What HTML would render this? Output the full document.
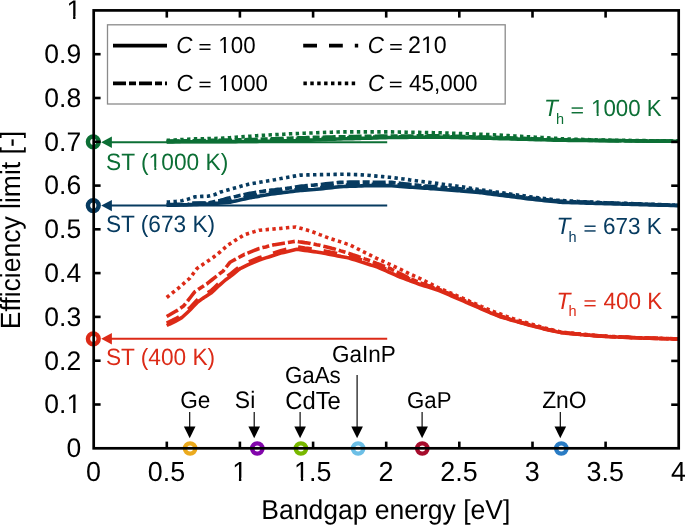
<!DOCTYPE html>
<html><head><meta charset="utf-8"><style>html,body{margin:0;padding:0;background:#fff;width:685px;height:525px;overflow:hidden}svg{display:block;will-change:transform;text-rendering:geometricPrecision}</style></head>
<body>
<svg width="685" height="525" viewBox="0 0 685 525" font-family='"Liberation Sans", sans-serif'>
<rect width="685" height="525" fill="#fff"/>
<polyline points="166.7,297.5 169.7,295.1 172.7,292.7 175.7,290.3 178.0,288.5 178.7,287.9 181.7,285.3 184.7,282.6 187.7,280.0 190.0,278.0 190.7,277.1 193.7,273.0 196.7,268.9 197.0,268.5 199.7,266.6 202.7,264.6 205.0,263.0 205.7,262.5 208.7,260.5 211.7,258.4 213.0,257.5 214.7,256.2 217.7,253.8 220.0,252.0 220.7,251.4 223.7,248.8 226.7,246.1 228.0,245.0 229.7,243.9 232.7,242.0 235.0,240.5 235.7,240.1 238.7,238.2 241.7,236.4 244.6,234.6 244.7,234.6 247.7,233.7 250.7,232.8 253.7,231.9 256.7,231.0 259.2,230.2 259.7,230.2 262.7,229.9 265.7,229.7 268.7,229.4 271.7,229.2 273.8,229.0 274.7,228.9 277.7,228.6 280.7,228.4 283.7,228.1 286.7,227.8 289.7,227.5 292.7,227.3 295.7,227.0 298.7,227.8 301.7,228.6 304.7,229.5 307.7,230.3 310.3,231.0 310.7,231.2 313.7,232.3 316.7,233.4 319.7,234.6 322.7,235.7 325.7,236.9 328.7,238.0 330.0,238.5 331.7,239.0 334.7,240.0 337.7,241.0 340.7,241.9 343.7,242.9 346.7,243.9 349.0,244.6 349.7,244.9 352.7,246.4 355.7,247.9 358.7,249.4 361.7,250.9 364.7,252.4 367.7,253.9 370.7,255.4 373.7,256.9 376.7,258.4 378.0,259.0 379.7,259.8 382.7,261.1 385.7,262.5 388.7,263.9 391.7,265.2 394.7,266.6 397.7,268.0 400.0,269.0 400.7,269.4 403.7,270.9 406.7,272.4 409.7,273.9 410.0,274.0 412.7,275.2 415.7,276.6 418.7,277.9 420.0,278.5 421.7,279.4 424.7,280.9 427.7,282.4 430.7,283.9 433.7,285.4 436.7,286.9 439.0,288.0 439.7,288.3 442.7,289.6 445.7,290.9 448.7,292.2 451.7,293.5 454.7,294.8 457.7,296.1 460.7,297.4 463.7,298.7 466.7,300.0 468.0,300.5 469.7,301.3 472.7,302.6 475.7,303.9 478.7,305.2 481.7,306.6 484.7,307.9 487.7,309.2 490.0,310.2 490.7,310.5 493.7,311.6 496.7,312.7 499.7,313.8 502.7,315.0 505.7,316.1 508.7,317.2 510.0,317.7 511.7,318.2 514.7,319.1 517.7,320.1 520.7,321.0 523.7,321.9 526.7,322.8 529.0,323.5 529.7,323.7 532.7,324.5 535.7,325.4 538.7,326.2 541.7,327.1 544.7,327.9 545.0,328.0 547.7,328.7 550.7,329.4 553.7,330.2 556.7,330.9 559.7,331.7 561.0,332.0 562.7,332.2 565.7,332.5 568.7,332.8 571.7,333.1 574.7,333.4 577.7,333.8 580.0,334.0 580.7,334.1 583.7,334.3 586.7,334.6 589.7,334.9 592.7,335.1 595.7,335.4 598.7,335.7 600.0,335.8 601.7,335.9 604.7,336.1 607.7,336.2 610.7,336.4 613.7,336.5 616.7,336.7 619.7,336.9 620.0,336.9 622.7,337.0 625.7,337.1 628.7,337.3 631.7,337.4 634.7,337.6 637.7,337.7 640.0,337.8 640.7,337.8 643.7,337.9 646.7,338.0 649.7,338.1 652.7,338.2 655.7,338.3 658.7,338.3 660.0,338.4 661.7,338.4 664.7,338.5 667.7,338.6 670.7,338.7 673.7,338.8 676.7,338.9 678.0,338.9" stroke="#dc2a17" stroke-width="3.6" fill="none" stroke-dasharray="3.4 3.4"/>
<polyline points="166.7,316.5 169.7,314.8 172.7,313.0 175.7,311.3 176.4,310.9 178.7,309.4 181.7,307.3 183.4,306.2 184.7,304.6 187.7,300.8 190.7,297.0 193.7,293.2 195.0,291.6 196.7,290.5 199.7,288.5 202.7,286.6 205.7,284.6 206.7,284.0 208.7,282.4 211.7,280.0 214.7,277.6 217.7,275.3 218.4,274.7 220.7,272.9 223.0,271.2 223.7,270.3 226.7,266.5 229.7,262.7 230.0,262.3 232.7,260.8 235.7,259.2 238.7,257.5 241.7,255.9 244.6,254.3 244.7,254.3 247.7,253.1 250.7,251.9 253.7,250.7 256.7,249.5 259.2,248.5 259.7,248.4 262.7,247.6 265.7,246.9 268.7,246.1 271.7,245.3 273.8,244.8 274.7,244.7 277.7,244.2 280.7,243.7 283.7,243.2 286.7,242.7 289.7,242.2 292.7,241.7 295.7,241.2 298.7,241.7 301.7,242.1 304.7,242.6 307.7,243.0 310.3,243.4 310.7,243.5 313.7,244.1 316.7,244.7 319.7,245.2 320.0,245.3 322.7,246.0 325.7,246.7 328.7,247.5 331.7,248.3 334.6,249.0 334.7,249.0 337.7,249.9 340.7,250.9 343.7,251.8 346.7,252.7 349.0,253.4 349.7,253.6 352.7,254.7 355.7,255.7 358.7,256.8 361.7,257.8 364.7,258.9 367.7,259.9 368.0,260.0 370.7,261.0 373.7,262.2 376.7,263.4 379.7,264.5 382.7,265.7 385.7,266.8 388.7,268.0 390.0,268.5 391.7,269.4 394.7,270.9 397.7,272.4 400.7,273.9 403.7,275.4 406.7,276.9 409.7,278.4 410.0,278.5 412.7,279.7 415.7,281.0 418.7,282.2 420.0,282.8 421.7,283.4 424.7,284.4 427.7,285.5 430.7,286.5 433.7,287.6 436.7,288.6 439.0,289.4 439.7,289.7 442.7,291.0 445.7,292.3 448.7,293.6 451.7,294.9 454.7,296.2 457.7,297.6 460.7,298.9 463.7,300.2 466.7,301.5 468.0,302.0 469.7,302.8 472.7,304.2 475.7,305.5 478.7,306.9 481.7,308.2 484.7,309.6 487.7,311.0 490.0,312.0 490.7,312.3 493.7,313.3 496.7,314.4 499.7,315.5 502.7,316.6 505.7,317.7 508.7,318.7 510.0,319.2 511.7,319.7 514.7,320.5 517.7,321.4 520.7,322.2 523.7,323.1 526.7,323.9 529.0,324.6 529.7,324.8 532.7,325.6 535.7,326.4 538.7,327.1 541.7,327.9 544.7,328.7 545.0,328.8 547.7,329.4 550.7,330.1 553.7,330.8 556.7,331.4 559.7,332.1 561.0,332.4 562.7,332.6 565.7,332.9 568.7,333.2 571.7,333.5 574.7,333.8 577.7,334.1 580.0,334.3 580.7,334.4 583.7,334.6 586.7,334.9 589.7,335.1 592.7,335.4 595.7,335.6 598.7,335.9 600.0,336.0 601.7,336.1 604.7,336.3 607.7,336.4 610.7,336.6 613.7,336.7 616.7,336.9 619.7,337.1 620.0,337.1 622.7,337.2 625.7,337.3 628.7,337.4 631.7,337.6 634.7,337.7 637.7,337.8 640.0,337.9 640.7,337.9 643.7,338.0 646.7,338.1 649.7,338.2 652.7,338.3 655.7,338.4 658.7,338.4 660.0,338.5 661.7,338.5 664.7,338.6 667.7,338.7 670.7,338.8 673.7,338.9 676.7,339.0 678.0,339.0" stroke="#dc2a17" stroke-width="3.6" fill="none" stroke-dasharray="13 3 7 3"/>
<polyline points="166.7,323.1 169.7,321.6 172.7,320.2 175.7,318.7 176.0,318.6 178.7,317.0 181.7,315.2 182.2,314.9 184.7,312.6 187.7,309.8 190.0,307.6 190.7,306.9 193.7,303.7 196.7,300.5 197.4,299.8 199.7,298.2 202.7,296.0 204.0,295.1 205.7,294.0 208.7,292.1 211.4,290.4 211.7,290.1 214.7,287.3 217.7,284.4 218.0,284.1 220.7,281.7 223.7,279.1 225.4,277.6 226.7,276.7 229.7,274.5 230.0,274.3 232.7,272.1 235.7,269.7 238.7,267.3 240.0,266.3 241.7,265.5 244.7,264.0 247.7,262.5 250.0,261.4 250.7,261.1 253.7,259.9 256.7,258.7 259.7,257.5 260.0,257.4 262.7,256.5 265.7,255.5 268.7,254.6 271.7,253.6 274.7,252.6 277.7,251.6 280.0,250.9 280.7,250.7 283.7,250.0 286.7,249.3 289.7,248.6 292.7,247.9 295.7,247.2 297.2,246.9 298.7,247.1 301.7,247.5 304.7,248.0 307.7,248.4 310.7,248.8 313.7,249.2 316.7,249.6 319.7,250.1 320.0,250.1 322.7,250.6 325.7,251.2 328.7,251.8 331.7,252.4 334.7,252.9 337.7,253.5 340.7,254.1 343.7,254.7 346.7,255.3 349.0,255.7 349.7,255.9 352.7,256.9 355.7,257.9 358.7,258.9 361.7,259.9 364.7,260.9 367.7,261.9 370.7,262.9 373.7,263.9 376.7,264.9 378.0,265.4 379.7,266.1 382.7,267.5 385.7,268.9 388.7,270.2 391.7,271.6 394.7,272.9 397.7,274.3 400.0,275.3 400.7,275.6 403.7,276.8 406.7,278.0 409.7,279.1 410.0,279.3 412.7,280.3 415.7,281.4 418.7,282.6 420.0,283.1 421.7,283.6 424.7,284.6 427.7,285.6 430.7,286.6 433.7,287.6 436.7,288.6 439.0,289.3 439.7,289.6 442.7,291.0 445.7,292.3 448.7,293.6 451.7,295.0 454.7,296.3 457.7,297.6 460.7,299.0 463.7,300.3 466.7,301.6 468.0,302.2 469.7,303.0 472.7,304.3 475.7,305.7 478.7,307.0 481.7,308.4 484.7,309.7 487.7,311.1 490.0,312.1 490.7,312.4 493.7,313.7 496.7,314.9 499.7,316.1 500.0,316.3 502.7,317.1 505.7,318.0 508.7,319.0 510.0,319.4 511.7,319.9 514.7,320.7 517.7,321.6 520.7,322.4 523.7,323.3 526.7,324.1 529.0,324.8 529.7,325.0 532.7,325.8 535.7,326.6 538.7,327.3 541.7,328.1 544.7,328.9 545.0,329.0 547.7,329.6 550.7,330.2 553.7,330.8 556.7,331.5 559.7,332.1 561.0,332.4 562.7,332.6 565.7,332.9 568.7,333.2 571.7,333.5 574.7,333.8 577.7,334.1 580.0,334.3 580.7,334.4 583.7,334.6 586.7,334.9 589.7,335.1 592.7,335.4 595.7,335.6 598.7,335.9 600.0,336.0 601.7,336.1 604.7,336.2 607.7,336.4 610.7,336.5 613.7,336.7 616.7,336.8 619.7,337.0 620.0,337.0 622.7,337.1 625.7,337.2 628.7,337.3 631.7,337.5 634.7,337.6 637.7,337.7 640.0,337.8 640.7,337.8 643.7,337.9 646.7,338.0 649.7,338.1 652.7,338.2 655.7,338.3 658.7,338.3 660.0,338.4 661.7,338.4 664.7,338.5 667.7,338.6 670.7,338.6 673.7,338.7 676.7,338.8 678.0,338.8" stroke="#dc2a17" stroke-width="3.6" fill="none" stroke-dasharray="13.8 12"/>
<polyline points="166.7,325.5 169.7,324.0 172.7,322.6 175.7,321.1 176.0,321.0 178.7,319.4 181.7,317.6 182.2,317.3 184.7,315.0 187.7,312.2 190.0,310.0 190.7,309.3 193.7,306.1 196.7,302.9 197.4,302.2 199.7,300.6 202.7,298.4 204.0,297.5 205.7,296.4 208.7,294.5 211.4,292.8 211.7,292.5 214.7,289.7 217.7,286.8 218.0,286.5 220.7,284.1 223.7,281.5 225.4,280.0 226.7,279.1 229.7,276.9 230.0,276.7 232.7,274.5 235.7,272.1 238.7,269.7 240.0,268.7 241.7,267.9 244.7,266.4 247.7,264.9 250.0,263.8 250.7,263.5 253.7,262.3 256.7,261.1 259.7,259.9 260.0,259.8 262.7,258.9 265.7,257.9 268.7,257.0 271.7,256.0 274.7,255.0 277.7,254.0 280.0,253.3 280.7,253.1 283.7,252.4 286.7,251.7 289.7,251.0 292.7,250.3 295.7,249.6 297.2,249.3 298.7,249.5 301.7,249.9 304.7,250.4 307.7,250.8 310.7,251.2 313.7,251.6 316.7,252.0 319.7,252.5 320.0,252.5 322.7,253.0 325.7,253.6 328.7,254.2 331.7,254.7 334.7,255.3 337.7,255.9 340.7,256.4 343.7,257.0 346.7,257.6 349.0,258.0 349.7,258.2 352.7,259.2 355.7,260.1 358.7,261.1 361.7,262.1 364.7,263.0 367.7,264.0 370.7,265.0 373.7,265.9 376.7,266.9 378.0,267.3 379.7,268.0 382.7,269.4 385.7,270.7 388.7,272.0 391.7,273.3 394.7,274.7 397.7,276.0 400.0,277.0 400.7,277.3 403.7,278.4 406.7,279.5 409.7,280.7 410.0,280.8 412.7,281.8 415.7,282.9 418.7,284.0 420.0,284.5 421.7,285.0 424.7,286.0 427.7,286.9 430.7,287.9 433.7,288.8 436.7,289.8 439.0,290.5 439.7,290.8 442.7,292.1 445.7,293.4 448.7,294.7 451.7,296.0 454.7,297.3 457.7,298.6 460.7,299.9 463.7,301.2 466.7,302.5 468.0,303.0 469.7,303.8 472.7,305.1 475.7,306.4 478.7,307.7 481.7,309.1 484.7,310.4 487.7,311.7 490.0,312.7 490.7,313.0 493.7,314.2 496.7,315.4 499.7,316.6 500.0,316.7 502.7,317.5 505.7,318.4 508.7,319.3 510.0,319.7 511.7,320.2 514.7,321.0 517.7,321.8 520.7,322.7 523.7,323.5 526.7,324.4 529.0,325.0 529.7,325.2 532.7,326.0 535.7,326.8 538.7,327.5 541.7,328.3 544.7,329.1 545.0,329.2 547.7,329.8 550.7,330.4 553.7,331.0 556.7,331.7 559.7,332.3 561.0,332.6 562.7,332.8 565.7,333.1 568.7,333.4 571.7,333.7 574.7,334.0 577.7,334.3 580.0,334.5 580.7,334.6 583.7,334.8 586.7,335.1 589.7,335.3 592.7,335.6 595.7,335.8 598.7,336.1 600.0,336.2 601.7,336.3 604.7,336.4 607.7,336.6 610.7,336.7 613.7,336.9 616.7,337.0 619.7,337.2 620.0,337.2 622.7,337.3 625.7,337.4 628.7,337.5 631.7,337.7 634.7,337.8 637.7,337.9 640.0,338.0 640.7,338.0 643.7,338.1 646.7,338.2 649.7,338.3 652.7,338.4 655.7,338.5 658.7,338.5 660.0,338.6 661.7,338.6 664.7,338.7 667.7,338.8 670.7,338.8 673.7,338.9 676.7,339.0 678.0,339.0" stroke="#dc2a17" stroke-width="3.6" fill="none" stroke-linejoin="round"/>
<polyline points="166.7,202.0 169.7,201.9 172.7,201.7 175.0,201.6 175.7,201.5 178.7,201.2 181.7,200.8 182.0,200.8 184.7,200.0 187.7,199.2 188.0,199.1 190.7,198.3 193.7,197.3 195.0,196.9 196.7,196.8 199.7,196.6 202.0,196.4 202.7,196.4 205.7,196.3 208.0,196.2 208.7,196.0 211.7,195.3 214.7,194.6 215.0,194.5 217.7,193.3 220.0,192.3 220.7,192.1 223.7,191.2 226.7,190.3 229.7,189.4 230.0,189.3 232.7,188.6 235.7,187.8 238.7,187.0 241.7,186.1 244.7,185.3 247.7,184.5 250.0,183.9 250.7,183.8 253.7,183.3 256.7,182.8 259.7,182.3 262.7,181.7 265.7,181.2 268.7,180.7 270.0,180.5 271.7,180.2 274.7,179.7 277.7,179.1 280.7,178.6 283.7,178.0 286.7,177.5 289.7,177.0 290.0,176.9 292.7,176.4 295.7,175.9 298.7,175.3 300.0,175.1 301.7,175.1 304.7,175.0 307.7,174.9 310.7,174.8 313.7,174.8 316.7,174.7 319.7,174.6 320.0,174.6 322.7,174.6 325.7,174.5 328.7,174.5 331.7,174.5 334.7,174.4 337.7,174.4 340.7,174.3 343.7,174.3 344.0,174.3 346.7,174.4 349.7,174.4 352.7,174.5 355.7,174.6 358.0,174.6 358.7,174.7 361.7,174.9 364.7,175.1 367.7,175.3 370.7,175.5 371.5,175.6 373.7,175.8 376.7,176.1 379.7,176.4 382.7,176.6 385.7,176.9 388.7,177.2 390.0,177.3 391.7,177.5 394.7,177.9 397.7,178.3 400.7,178.7 403.7,179.0 405.0,179.2 406.7,179.4 409.7,179.9 412.7,180.3 415.7,180.7 418.7,181.1 420.0,181.3 421.7,181.5 424.7,181.9 427.7,182.2 430.7,182.6 433.7,183.0 434.0,183.0 436.7,183.4 439.7,183.8 442.7,184.2 445.7,184.6 447.0,184.8 448.7,185.0 451.7,185.4 454.7,185.8 457.7,186.2 460.0,186.5 460.7,186.6 463.7,187.1 466.7,187.6 469.7,188.1 472.7,188.6 475.7,189.1 478.7,189.6 480.0,189.8 481.7,190.0 484.7,190.4 487.7,190.9 490.7,191.3 493.7,191.7 496.7,192.1 499.7,192.5 502.7,192.9 505.7,193.3 508.7,193.8 511.7,194.2 514.7,194.6 517.7,195.0 520.7,195.4 523.7,195.8 526.7,196.2 529.7,196.7 530.0,196.7 532.7,197.0 535.7,197.4 538.7,197.8 541.7,198.1 544.7,198.5 547.7,198.9 550.7,199.2 553.7,199.6 556.7,200.0 559.7,200.3 561.0,200.5 562.7,200.6 565.7,200.7 568.7,200.9 571.7,201.0 574.7,201.2 577.7,201.4 580.7,201.5 583.7,201.7 586.7,201.8 589.7,202.0 592.7,202.1 595.7,202.3 598.7,202.4 600.0,202.5 601.7,202.6 604.7,202.7 607.7,202.8 610.7,202.9 613.7,203.0 616.7,203.1 619.7,203.2 622.7,203.3 625.7,203.4 628.7,203.5 631.7,203.6 634.7,203.7 637.7,203.8 640.0,203.9 640.7,203.9 643.7,204.0 646.7,204.1 649.7,204.2 652.7,204.3 655.7,204.4 658.7,204.5 661.7,204.6 664.7,204.7 667.7,204.8 670.7,204.9 673.7,205.0 676.7,205.1 678.0,205.1" stroke="#073b60" stroke-width="3.6" fill="none" stroke-dasharray="3.4 3.4"/>
<polyline points="166.7,204.8 169.7,204.8 172.7,204.8 175.7,204.8 178.7,204.8 181.7,204.8 184.7,204.8 186.0,204.8 187.7,204.4 190.7,203.6 193.0,203.0 193.7,203.0 196.7,203.0 199.7,203.0 202.7,203.0 205.0,203.0 205.7,202.9 208.7,202.7 210.0,202.6 211.7,202.2 214.7,201.6 217.7,201.0 220.0,200.5 220.7,200.3 223.7,199.5 226.7,198.6 229.7,197.8 231.0,197.4 232.7,197.0 235.7,196.4 238.7,195.7 241.7,195.1 244.7,194.4 247.7,193.8 250.0,193.3 250.7,193.2 253.7,192.7 256.7,192.3 259.7,191.8 262.7,191.4 265.7,190.9 268.7,190.5 270.0,190.3 271.7,190.1 274.7,189.8 277.7,189.4 280.7,189.1 283.7,188.7 286.7,188.4 289.7,188.0 290.0,188.0 292.7,187.5 295.7,187.0 298.7,186.5 300.0,186.3 301.7,186.1 304.7,185.9 307.7,185.6 310.7,185.3 313.7,185.1 316.7,184.8 319.7,184.5 320.0,184.5 322.7,184.2 325.7,183.9 328.7,183.6 331.7,183.3 334.7,183.0 337.7,182.6 340.0,182.4 340.7,182.4 343.7,182.3 346.7,182.2 349.7,182.1 350.0,182.1 352.7,182.1 355.7,182.1 358.7,182.1 361.7,182.1 364.7,182.1 367.7,182.1 370.7,182.2 373.7,182.2 376.7,182.2 379.7,182.2 382.7,182.2 385.7,182.2 388.7,182.2 390.0,182.2 391.7,182.4 394.7,182.7 397.7,183.0 400.0,183.3 400.7,183.4 403.7,183.7 406.7,184.0 409.7,184.4 412.7,184.7 415.7,185.0 418.7,185.4 420.0,185.5 421.7,185.6 424.7,185.9 427.7,186.1 430.7,186.4 433.7,186.6 436.7,186.9 439.7,187.1 442.7,187.4 445.7,187.6 448.7,187.9 451.7,188.1 454.7,188.4 457.7,188.6 460.0,188.8 460.7,188.9 463.7,189.2 466.7,189.5 469.7,189.9 472.7,190.2 475.7,190.5 478.7,190.9 480.0,191.0 481.7,191.2 484.7,191.7 487.7,192.1 490.7,192.5 493.7,192.9 496.7,193.3 499.7,193.8 502.7,194.2 505.7,194.6 508.7,195.0 511.7,195.4 514.7,195.9 517.7,196.3 520.7,196.7 523.7,197.1 526.7,197.5 529.7,198.0 530.0,198.0 532.7,198.3 535.7,198.6 538.7,198.9 541.7,199.2 544.7,199.6 547.7,199.9 550.7,200.2 553.7,200.5 556.7,200.8 559.7,201.2 561.0,201.3 562.7,201.4 565.7,201.5 568.7,201.6 571.7,201.7 574.7,201.8 577.7,201.9 580.7,202.0 583.7,202.1 586.7,202.2 589.7,202.3 592.7,202.4 595.7,202.5 598.7,202.7 600.0,202.7 601.7,202.8 604.7,202.9 607.7,203.0 610.7,203.1 613.7,203.2 616.7,203.3 619.7,203.4 622.7,203.5 625.7,203.6 628.7,203.7 631.7,203.8 634.7,203.9 637.7,204.0 640.0,204.1 640.7,204.1 643.7,204.2 646.7,204.3 649.7,204.4 652.7,204.5 655.7,204.6 658.7,204.7 661.7,204.8 664.7,204.9 667.7,205.0 670.7,205.1 673.7,205.2 676.7,205.3 678.0,205.3" stroke="#073b60" stroke-width="3.6" fill="none" stroke-dasharray="13 3 7 3"/>
<polyline points="166.7,204.6 169.7,204.5 172.7,204.5 175.7,204.4 178.7,204.4 181.7,204.3 184.7,204.2 186.0,204.2 187.7,204.1 190.7,203.9 193.7,203.8 196.7,203.6 199.7,203.4 202.7,203.2 205.7,203.1 208.7,202.9 210.0,202.8 211.7,202.6 214.7,202.4 217.7,202.1 220.7,201.8 223.7,201.6 226.7,201.3 229.7,201.0 230.0,201.0 232.7,200.4 235.7,199.7 238.7,199.0 241.7,198.3 244.7,197.5 247.7,196.8 250.0,196.3 250.7,196.2 253.7,195.6 256.7,195.1 259.7,194.6 262.7,194.0 265.7,193.5 268.7,192.9 270.0,192.7 271.7,192.5 274.7,192.1 277.7,191.8 280.7,191.4 283.7,191.0 286.7,190.6 289.7,190.3 292.7,189.9 295.7,189.5 298.7,189.2 300.0,189.0 301.7,188.9 304.7,188.6 307.7,188.4 310.7,188.2 313.7,188.0 316.7,187.7 319.7,187.5 320.0,187.5 322.7,187.2 325.7,186.8 328.7,186.5 331.7,186.2 334.7,185.8 337.7,185.5 340.0,185.2 340.7,185.2 343.7,185.1 346.7,185.0 349.7,184.9 352.7,184.8 355.7,184.7 358.7,184.6 361.7,184.5 364.7,184.4 367.7,184.3 370.0,184.2 370.7,184.2 373.7,184.2 376.7,184.2 379.7,184.2 382.7,184.3 385.7,184.3 388.7,184.3 390.0,184.3 391.7,184.4 394.7,184.6 397.7,184.8 400.0,185.0 400.7,185.1 403.7,185.3 406.7,185.5 409.7,185.7 412.7,186.0 415.7,186.2 418.7,186.4 421.7,186.7 424.7,186.9 426.0,187.0 427.7,187.1 430.7,187.4 433.7,187.7 436.7,187.9 439.7,188.2 442.7,188.4 445.7,188.7 448.7,188.9 451.7,189.2 454.7,189.4 457.7,189.7 460.0,189.9 460.7,190.0 463.7,190.3 466.7,190.5 469.7,190.8 472.7,191.1 475.7,191.4 478.7,191.7 480.0,191.8 481.7,192.0 484.7,192.4 487.7,192.8 490.7,193.2 493.7,193.6 496.7,194.0 499.7,194.4 502.7,194.8 505.7,195.2 508.7,195.6 511.7,196.0 514.7,196.4 517.7,196.9 520.7,197.3 523.7,197.7 526.7,198.1 529.7,198.5 530.0,198.5 532.7,198.8 535.7,199.1 538.7,199.3 541.7,199.6 544.7,199.9 547.7,200.2 550.7,200.5 553.7,200.8 556.7,201.1 559.7,201.4 561.0,201.5 562.7,201.6 565.7,201.7 568.7,201.8 571.7,201.9 574.7,202.0 577.7,202.1 580.7,202.2 583.7,202.3 586.7,202.4 589.7,202.5 592.7,202.6 595.7,202.7 598.7,202.8 600.0,202.8 601.7,202.9 604.7,203.0 607.7,203.1 610.7,203.2 613.7,203.3 616.7,203.4 619.7,203.5 622.7,203.6 625.7,203.7 628.7,203.8 631.7,203.9 634.7,204.0 637.7,204.1 640.0,204.2 640.7,204.2 643.7,204.3 646.7,204.4 649.7,204.5 652.7,204.6 655.7,204.7 658.7,204.8 661.7,204.9 664.7,205.0 667.7,205.1 670.7,205.2 673.7,205.3 676.7,205.4 678.0,205.4" stroke="#073b60" stroke-width="3.6" fill="none" stroke-dasharray="13.8 12"/>
<polyline points="166.7,205.3 169.7,205.2 172.7,205.1 175.7,205.1 178.7,205.0 181.7,204.9 184.7,204.8 186.0,204.8 187.7,204.7 190.7,204.6 193.7,204.5 196.7,204.4 199.7,204.2 202.7,204.1 205.7,204.0 208.7,203.9 210.0,203.8 211.7,203.7 214.7,203.4 217.7,203.2 220.7,202.9 223.7,202.7 226.7,202.5 229.7,202.2 230.0,202.2 232.7,201.6 235.7,200.9 238.7,200.3 241.7,199.6 244.7,199.0 247.7,198.3 250.0,197.8 250.7,197.7 253.7,197.1 256.7,196.6 259.7,196.1 262.7,195.5 265.7,195.0 268.7,194.4 270.0,194.2 271.7,194.0 274.7,193.6 277.7,193.3 280.7,192.9 283.7,192.5 286.7,192.1 289.7,191.8 292.7,191.4 295.7,191.0 298.7,190.7 300.0,190.5 301.7,190.4 304.7,190.1 307.7,189.9 310.7,189.7 313.7,189.5 316.7,189.2 319.7,189.0 320.0,189.0 322.7,188.7 325.7,188.3 328.7,188.0 331.7,187.6 334.7,187.2 337.7,186.9 340.0,186.6 340.7,186.6 343.7,186.5 346.7,186.4 349.7,186.3 352.7,186.2 355.7,186.1 358.7,186.0 361.7,185.9 364.7,185.8 367.7,185.7 370.0,185.6 370.7,185.6 373.7,185.6 376.7,185.6 379.7,185.6 382.7,185.6 385.7,185.6 388.7,185.6 390.0,185.6 391.7,185.7 394.7,186.0 397.7,186.2 400.0,186.4 400.7,186.4 403.7,186.7 406.7,186.9 409.7,187.1 412.7,187.3 415.7,187.5 418.7,187.7 421.7,187.9 424.7,188.1 426.0,188.2 427.7,188.3 430.7,188.6 433.7,188.8 436.7,189.0 439.7,189.2 442.7,189.5 445.7,189.7 448.7,189.9 451.7,190.2 454.7,190.4 457.7,190.6 460.0,190.8 460.7,190.9 463.7,191.1 466.7,191.4 469.7,191.7 472.7,191.9 475.7,192.2 478.7,192.5 480.0,192.6 481.7,192.8 484.7,193.2 487.7,193.6 490.7,194.0 493.7,194.4 496.7,194.7 499.7,195.1 502.7,195.5 505.7,195.9 508.7,196.3 511.7,196.7 514.7,197.0 517.7,197.4 520.7,197.8 523.7,198.2 526.7,198.6 529.7,199.0 530.0,199.0 532.7,199.3 535.7,199.6 538.7,199.9 541.7,200.2 544.7,200.6 547.7,200.9 550.7,201.2 553.7,201.5 556.7,201.8 559.7,202.2 561.0,202.3 562.7,202.4 565.7,202.4 568.7,202.5 571.7,202.6 574.7,202.7 577.7,202.8 580.7,202.9 583.7,203.0 586.7,203.1 589.7,203.2 592.7,203.3 595.7,203.4 598.7,203.5 600.0,203.5 601.7,203.5 604.7,203.6 607.7,203.7 610.7,203.8 613.7,203.9 616.7,204.0 619.7,204.0 622.7,204.1 625.7,204.2 628.7,204.3 631.7,204.4 634.7,204.5 637.7,204.5 640.0,204.6 640.7,204.6 643.7,204.7 646.7,204.8 649.7,204.9 652.7,204.9 655.7,205.0 658.7,205.1 661.7,205.2 664.7,205.2 667.7,205.3 670.7,205.4 673.7,205.5 676.7,205.6 678.0,205.6" stroke="#073b60" stroke-width="3.6" fill="none" stroke-linejoin="round"/>
<polyline points="166.7,140.3 169.7,140.2 172.7,140.0 175.7,139.9 178.7,139.7 181.7,139.6 184.7,139.4 187.7,139.3 190.7,139.1 193.7,139.0 195.0,138.9 196.7,138.9 199.7,138.8 202.7,138.7 205.7,138.7 208.7,138.6 211.7,138.6 214.7,138.5 217.7,138.4 220.0,138.4 220.7,138.4 223.7,138.1 226.7,137.9 229.7,137.7 232.7,137.5 235.7,137.3 238.7,137.1 240.0,137.0 241.7,136.9 244.7,136.6 247.7,136.4 250.7,136.2 253.7,135.9 256.7,135.7 258.0,135.6 259.7,135.5 262.7,135.3 265.7,135.2 268.7,135.0 271.7,134.8 274.7,134.7 277.7,134.5 280.7,134.3 283.7,134.2 286.7,134.0 289.7,133.8 290.0,133.8 292.7,133.7 295.7,133.6 298.7,133.5 301.7,133.3 304.7,133.2 307.7,133.1 310.7,133.0 313.7,132.9 316.7,132.7 319.7,132.6 320.0,132.6 322.7,132.5 325.7,132.4 328.7,132.3 331.7,132.2 334.7,132.1 337.7,132.0 340.0,131.9 340.7,131.9 343.7,131.9 346.7,131.9 349.7,131.9 352.7,131.9 355.7,131.9 358.7,131.9 361.7,131.9 364.7,131.9 367.7,131.9 370.7,131.9 373.7,131.9 376.7,131.9 379.7,131.9 382.7,131.9 385.7,131.9 388.7,131.9 390.0,131.9 391.7,131.9 394.7,132.0 397.7,132.0 400.7,132.1 403.7,132.1 406.7,132.2 409.7,132.3 412.7,132.3 415.7,132.4 418.7,132.4 421.7,132.5 424.7,132.5 427.7,132.6 430.7,132.6 433.7,132.7 436.7,132.7 439.7,132.8 440.0,132.8 442.7,132.9 445.7,133.0 448.7,133.1 451.7,133.2 454.7,133.3 457.7,133.4 460.7,133.5 463.7,133.7 466.7,133.8 469.7,133.9 472.7,134.0 475.7,134.1 478.7,134.2 481.7,134.3 484.7,134.4 487.7,134.5 490.0,134.6 490.7,134.6 493.7,134.8 496.7,135.0 499.7,135.1 502.7,135.3 505.7,135.5 508.7,135.6 511.7,135.8 514.7,136.0 517.7,136.2 520.7,136.3 523.7,136.5 526.7,136.7 529.7,136.8 532.7,137.0 535.7,137.2 538.7,137.3 540.0,137.4 541.7,137.5 544.7,137.7 547.7,137.9 550.7,138.1 553.7,138.2 556.7,138.4 559.7,138.6 561.0,138.7 562.7,138.8 565.7,138.9 568.7,139.0 571.7,139.1 574.7,139.2 577.7,139.3 580.7,139.4 583.7,139.5 586.7,139.6 589.7,139.7 592.7,139.8 595.7,139.9 598.7,140.0 600.0,140.0 601.7,140.0 604.7,140.1 607.7,140.1 610.7,140.2 613.7,140.2 616.7,140.3 619.7,140.3 622.7,140.3 625.7,140.4 628.7,140.4 631.7,140.5 634.7,140.5 637.7,140.6 640.0,140.6 640.7,140.6 643.7,140.6 646.7,140.7 649.7,140.7 652.7,140.7 655.7,140.8 658.7,140.8 661.7,140.8 664.7,140.9 667.7,140.9 670.7,140.9 673.7,141.0 676.7,141.0 678.0,141.0" stroke="#0c6f35" stroke-width="3.6" fill="none" stroke-dasharray="3.4 3.4"/>
<polyline points="166.7,141.2 169.7,141.1 172.7,141.1 175.7,141.0 178.7,141.0 181.7,140.9 184.7,140.9 187.7,140.8 190.7,140.8 193.7,140.7 196.7,140.7 199.7,140.6 200.0,140.6 202.7,140.5 205.7,140.5 208.7,140.4 211.7,140.4 214.7,140.3 217.7,140.2 220.7,140.2 223.7,140.1 226.7,140.1 229.7,140.0 232.7,139.9 235.7,139.9 238.7,139.8 241.7,139.8 244.7,139.7 247.7,139.6 250.0,139.6 250.7,139.6 253.7,139.5 256.7,139.4 259.7,139.3 262.7,139.1 265.7,139.0 268.7,138.9 271.7,138.8 274.7,138.7 277.7,138.6 280.7,138.5 283.7,138.4 286.7,138.3 289.7,138.2 292.7,138.1 295.7,138.0 298.7,137.8 300.0,137.8 301.7,137.8 304.7,137.7 307.7,137.6 310.7,137.5 313.7,137.4 316.7,137.4 319.7,137.3 322.7,137.2 325.7,137.1 328.7,137.0 330.0,137.0 331.7,137.0 334.7,136.9 337.7,136.8 340.7,136.8 343.7,136.7 346.7,136.7 349.7,136.6 352.7,136.5 355.7,136.5 358.7,136.4 360.0,136.4 361.7,136.4 364.7,136.3 367.7,136.3 370.7,136.3 373.7,136.2 376.7,136.2 379.7,136.1 382.7,136.1 385.7,136.1 388.7,136.0 390.0,136.0 391.7,136.0 394.7,136.0 397.7,136.0 400.7,136.0 403.7,136.0 406.7,136.0 409.7,136.0 412.7,136.0 415.7,135.9 418.7,135.9 421.7,135.9 424.7,135.9 427.7,135.9 430.7,135.9 433.7,135.9 436.7,135.9 439.7,135.9 440.0,135.9 442.7,136.0 445.7,136.0 448.7,136.1 451.7,136.2 454.7,136.3 457.7,136.4 460.7,136.4 463.7,136.5 466.7,136.6 469.7,136.7 472.7,136.8 475.7,136.8 478.7,136.9 481.7,137.0 484.7,137.1 487.7,137.1 490.0,137.2 490.7,137.2 493.7,137.3 496.7,137.4 499.7,137.5 502.7,137.7 505.7,137.8 508.7,137.9 511.7,138.0 514.7,138.1 517.7,138.2 520.7,138.3 523.7,138.4 526.7,138.5 529.7,138.6 532.7,138.7 535.7,138.8 538.7,139.0 540.0,139.0 541.7,139.1 544.7,139.2 547.7,139.3 550.7,139.4 553.7,139.5 556.7,139.6 559.7,139.8 561.0,139.8 562.7,139.8 565.7,139.9 568.7,139.9 571.7,140.0 574.7,140.0 577.7,140.1 580.7,140.1 583.7,140.1 586.7,140.2 589.7,140.2 592.7,140.3 595.7,140.3 598.7,140.4 600.0,140.4 601.7,140.4 604.7,140.4 607.7,140.5 610.7,140.5 613.7,140.5 616.7,140.6 619.7,140.6 622.7,140.6 625.7,140.7 628.7,140.7 631.7,140.7 634.7,140.7 637.7,140.8 640.0,140.8 640.7,140.8 643.7,140.8 646.7,140.9 649.7,140.9 652.7,140.9 655.7,141.0 658.7,141.0 661.7,141.0 664.7,141.1 667.7,141.1 670.7,141.1 673.7,141.2 676.7,141.2 678.0,141.2" stroke="#0c6f35" stroke-width="3.6" fill="none" stroke-dasharray="13 3 7 3"/>
<polyline points="166.7,141.5 169.7,141.5 172.7,141.4 175.7,141.4 178.7,141.4 181.7,141.3 184.7,141.3 187.7,141.2 190.7,141.2 193.7,141.2 196.7,141.1 199.7,141.1 200.0,141.1 202.7,141.1 205.7,141.0 208.7,141.0 211.7,141.0 214.7,140.9 217.7,140.9 220.7,140.9 223.7,140.8 226.7,140.8 229.7,140.7 232.7,140.7 235.7,140.7 238.7,140.6 241.7,140.6 244.7,140.6 247.7,140.5 250.0,140.5 250.7,140.5 253.7,140.4 256.7,140.3 259.7,140.2 262.7,140.2 265.7,140.1 268.7,140.0 271.7,139.9 274.7,139.9 277.7,139.8 280.7,139.7 283.7,139.6 286.7,139.5 289.7,139.5 292.7,139.4 295.7,139.3 298.7,139.2 300.0,139.2 301.7,139.1 304.7,139.0 307.7,138.9 310.7,138.8 313.7,138.7 316.7,138.6 319.7,138.5 322.7,138.4 325.7,138.3 328.7,138.1 330.0,138.1 331.7,138.1 334.7,138.0 337.7,137.9 340.7,137.9 343.7,137.8 346.7,137.7 349.7,137.6 352.7,137.6 355.7,137.5 358.7,137.4 360.0,137.4 361.7,137.4 364.7,137.3 367.7,137.2 370.7,137.2 373.7,137.1 376.7,137.1 379.7,137.0 382.7,136.9 385.7,136.9 388.7,136.8 390.0,136.8 391.7,136.8 394.7,136.8 397.7,136.8 400.7,136.7 403.7,136.7 406.7,136.7 409.7,136.7 412.7,136.7 415.7,136.6 418.7,136.6 421.7,136.6 424.7,136.6 427.7,136.6 430.7,136.6 433.7,136.5 436.7,136.5 439.7,136.5 440.0,136.5 442.7,136.6 445.7,136.6 448.7,136.7 451.7,136.8 454.7,136.9 457.7,136.9 460.7,137.0 463.7,137.1 466.7,137.1 469.7,137.2 472.7,137.3 475.7,137.4 478.7,137.4 481.7,137.5 484.7,137.6 487.7,137.6 490.0,137.7 490.7,137.7 493.7,137.8 496.7,137.9 499.7,138.0 502.7,138.1 505.7,138.2 508.7,138.3 511.7,138.4 514.7,138.5 517.7,138.6 520.7,138.7 523.7,138.8 526.7,138.9 529.7,139.0 532.7,139.1 535.7,139.2 538.7,139.3 540.0,139.3 541.7,139.4 544.7,139.5 547.7,139.6 550.7,139.7 553.7,139.8 556.7,139.9 559.7,140.0 561.0,140.0 562.7,140.0 565.7,140.1 568.7,140.1 571.7,140.1 574.7,140.2 577.7,140.2 580.7,140.3 583.7,140.3 586.7,140.3 589.7,140.4 592.7,140.4 595.7,140.4 598.7,140.5 600.0,140.5 601.7,140.5 604.7,140.5 607.7,140.6 610.7,140.6 613.7,140.6 616.7,140.7 619.7,140.7 622.7,140.7 625.7,140.8 628.7,140.8 631.7,140.8 634.7,140.8 637.7,140.9 640.0,140.9 640.7,140.9 643.7,140.9 646.7,141.0 649.7,141.0 652.7,141.0 655.7,141.1 658.7,141.1 661.7,141.1 664.7,141.2 667.7,141.2 670.7,141.2 673.7,141.3 676.7,141.3 678.0,141.3" stroke="#0c6f35" stroke-width="3.6" fill="none" stroke-dasharray="13.8 12"/>
<polyline points="166.7,141.9 169.7,141.9 172.7,141.9 175.7,141.8 178.7,141.8 181.7,141.8 184.7,141.8 187.7,141.8 190.7,141.8 193.7,141.7 196.7,141.7 199.7,141.7 200.0,141.7 202.7,141.7 205.7,141.7 208.7,141.7 211.7,141.7 214.7,141.6 217.7,141.6 220.7,141.6 223.7,141.6 226.7,141.6 229.7,141.6 232.7,141.6 235.7,141.6 238.7,141.5 241.7,141.5 244.7,141.5 247.7,141.5 250.0,141.5 250.7,141.5 253.7,141.4 256.7,141.4 259.7,141.3 262.7,141.3 265.7,141.2 268.7,141.2 271.7,141.1 274.7,141.1 277.7,141.0 280.7,140.9 283.7,140.9 286.7,140.8 289.7,140.8 292.7,140.7 295.7,140.7 298.7,140.6 300.0,140.6 301.7,140.5 304.7,140.4 307.7,140.2 310.7,140.1 313.7,140.0 316.7,139.8 317.0,139.8 319.7,139.7 322.7,139.5 325.7,139.4 328.7,139.3 330.0,139.2 331.7,139.2 334.7,139.1 337.7,139.0 340.7,138.9 343.7,138.8 346.7,138.8 349.7,138.7 352.7,138.6 355.7,138.5 358.7,138.4 360.0,138.4 361.7,138.3 364.7,138.3 367.7,138.2 370.7,138.1 373.7,138.0 376.7,137.9 379.7,137.8 382.7,137.7 385.7,137.6 388.7,137.5 390.0,137.5 391.7,137.5 394.7,137.5 397.7,137.4 400.7,137.4 403.7,137.4 406.7,137.4 409.7,137.3 412.7,137.3 415.7,137.3 418.7,137.3 421.7,137.2 424.7,137.2 427.7,137.2 430.7,137.2 433.7,137.2 436.7,137.1 439.7,137.1 440.0,137.1 442.7,137.2 445.7,137.2 448.7,137.3 451.7,137.4 454.7,137.5 457.7,137.5 460.7,137.6 463.7,137.7 466.7,137.7 469.7,137.8 472.7,137.9 475.7,138.0 478.7,138.0 481.7,138.1 484.7,138.2 487.7,138.2 490.0,138.3 490.7,138.3 493.7,138.4 496.7,138.5 499.7,138.6 502.7,138.7 505.7,138.7 508.7,138.8 511.7,138.9 514.7,139.0 517.7,139.1 520.7,139.2 523.7,139.2 526.7,139.3 529.7,139.4 532.7,139.5 535.7,139.6 538.7,139.7 540.0,139.7 541.7,139.7 544.7,139.8 547.7,139.9 550.7,140.0 553.7,140.1 556.7,140.2 559.7,140.3 561.0,140.3 562.7,140.3 565.7,140.3 568.7,140.4 571.7,140.4 574.7,140.4 577.7,140.4 580.7,140.5 583.7,140.5 586.7,140.5 589.7,140.5 592.7,140.5 595.7,140.6 598.7,140.6 600.0,140.6 601.7,140.6 604.7,140.6 607.7,140.7 610.7,140.7 613.7,140.7 616.7,140.8 619.7,140.8 622.7,140.8 625.7,140.9 628.7,140.9 631.7,140.9 634.7,140.9 637.7,141.0 640.0,141.0 640.7,141.0 643.7,141.0 646.7,141.1 649.7,141.1 652.7,141.1 655.7,141.1 658.7,141.1 661.7,141.2 664.7,141.2 667.7,141.2 670.7,141.2 673.7,141.3 676.7,141.3 678.0,141.3" stroke="#0c6f35" stroke-width="3.6" fill="none" stroke-linejoin="round"/>
<line x1="108" y1="142.3" x2="387.2" y2="142.3" stroke="#0c6f35" stroke-width="2.0"/>
<path d="M101.2,142.3 L111.9,136.6 L111.9,148.0 Z" fill="#0c6f35"/>
<line x1="108" y1="205.6" x2="387.2" y2="205.6" stroke="#073b60" stroke-width="2.0"/>
<path d="M101.2,205.6 L111.9,199.9 L111.9,211.3 Z" fill="#073b60"/>
<line x1="108" y1="338.8" x2="387.2" y2="338.8" stroke="#dc2a17" stroke-width="2.0"/>
<path d="M101.2,338.8 L111.9,333.1 L111.9,344.5 Z" fill="#dc2a17"/>
<circle cx="93.3" cy="141.8" r="5.35" fill="none" stroke="#0c6f35" stroke-width="4.5"/>
<circle cx="93.3" cy="205.6" r="5.35" fill="none" stroke="#073b60" stroke-width="4.5"/>
<circle cx="93.3" cy="338.8" r="5.35" fill="none" stroke="#dc2a17" stroke-width="4.5"/>
<circle cx="190.1" cy="448.5" r="5.15" fill="none" stroke="#ebaa1e" stroke-width="4.4"/>
<circle cx="257.3" cy="448.5" r="5.15" fill="none" stroke="#8206ab" stroke-width="4.4"/>
<circle cx="300.9" cy="448.5" r="5.15" fill="none" stroke="#79b800" stroke-width="4.4"/>
<circle cx="358.1" cy="448.5" r="5.15" fill="none" stroke="#6dbfe6" stroke-width="4.4"/>
<circle cx="422.3" cy="448.5" r="5.15" fill="none" stroke="#a60c2c" stroke-width="4.4"/>
<circle cx="561.3" cy="448.5" r="5.15" fill="none" stroke="#2a7cc4" stroke-width="4.4"/>
<line x1="189.7" y1="412.0" x2="189.7" y2="428" stroke="#000" stroke-width="1.15"/>
<path d="M183.9,426.6 L195.5,426.6 L189.7,438.2 Z" fill="#000"/>
<line x1="254.2" y1="412.0" x2="254.2" y2="428" stroke="#000" stroke-width="1.15"/>
<path d="M248.4,426.6 L260.0,426.6 L254.2,438.2 Z" fill="#000"/>
<line x1="300.1" y1="412.0" x2="300.1" y2="428" stroke="#000" stroke-width="1.15"/>
<path d="M294.3,426.6 L305.9,426.6 L300.1,438.2 Z" fill="#000"/>
<line x1="357.1" y1="375.0" x2="357.1" y2="428" stroke="#000" stroke-width="1.15"/>
<path d="M351.3,426.6 L362.9,426.6 L357.1,438.2 Z" fill="#000"/>
<line x1="422.1" y1="412.0" x2="422.1" y2="428" stroke="#000" stroke-width="1.15"/>
<path d="M416.3,426.6 L427.9,426.6 L422.1,438.2 Z" fill="#000"/>
<line x1="560.3" y1="412.0" x2="560.3" y2="428" stroke="#000" stroke-width="1.15"/>
<path d="M554.5,426.6 L566.1,426.6 L560.3,438.2 Z" fill="#000"/>
<rect x="93.7" y="10.4" width="585" height="437.9" fill="none" stroke="#000" stroke-width="2.7"/>
<line x1="166.8" y1="10.4" x2="166.8" y2="17.6" stroke="#000" stroke-width="2.6"/>
<line x1="166.8" y1="448.3" x2="166.8" y2="441.6" stroke="#000" stroke-width="2.6"/>
<line x1="239.9" y1="10.4" x2="239.9" y2="17.6" stroke="#000" stroke-width="2.6"/>
<line x1="239.9" y1="448.3" x2="239.9" y2="441.6" stroke="#000" stroke-width="2.6"/>
<line x1="313.1" y1="10.4" x2="313.1" y2="17.6" stroke="#000" stroke-width="2.6"/>
<line x1="313.1" y1="448.3" x2="313.1" y2="441.6" stroke="#000" stroke-width="2.6"/>
<line x1="386.2" y1="10.4" x2="386.2" y2="17.6" stroke="#000" stroke-width="2.6"/>
<line x1="386.2" y1="448.3" x2="386.2" y2="441.6" stroke="#000" stroke-width="2.6"/>
<line x1="459.3" y1="10.4" x2="459.3" y2="17.6" stroke="#000" stroke-width="2.6"/>
<line x1="459.3" y1="448.3" x2="459.3" y2="441.6" stroke="#000" stroke-width="2.6"/>
<line x1="532.5" y1="10.4" x2="532.5" y2="17.6" stroke="#000" stroke-width="2.6"/>
<line x1="532.5" y1="448.3" x2="532.5" y2="441.6" stroke="#000" stroke-width="2.6"/>
<line x1="605.6" y1="10.4" x2="605.6" y2="17.6" stroke="#000" stroke-width="2.6"/>
<line x1="605.6" y1="448.3" x2="605.6" y2="441.6" stroke="#000" stroke-width="2.6"/>
<line x1="93.7" y1="404.5" x2="100.6" y2="404.5" stroke="#000" stroke-width="2.6"/>
<line x1="678.7" y1="404.7" x2="671.2" y2="404.7" stroke="#000" stroke-width="2.6"/>
<line x1="93.7" y1="360.7" x2="100.6" y2="360.7" stroke="#000" stroke-width="2.6"/>
<line x1="678.7" y1="360.9" x2="671.2" y2="360.9" stroke="#000" stroke-width="2.6"/>
<line x1="93.7" y1="316.9" x2="100.6" y2="316.9" stroke="#000" stroke-width="2.6"/>
<line x1="678.7" y1="317.1" x2="671.2" y2="317.1" stroke="#000" stroke-width="2.6"/>
<line x1="93.7" y1="273.1" x2="100.6" y2="273.1" stroke="#000" stroke-width="2.6"/>
<line x1="678.7" y1="273.3" x2="671.2" y2="273.3" stroke="#000" stroke-width="2.6"/>
<line x1="93.7" y1="229.3" x2="100.6" y2="229.3" stroke="#000" stroke-width="2.6"/>
<line x1="678.7" y1="229.5" x2="671.2" y2="229.5" stroke="#000" stroke-width="2.6"/>
<line x1="93.7" y1="185.6" x2="100.6" y2="185.6" stroke="#000" stroke-width="2.6"/>
<line x1="678.7" y1="185.7" x2="671.2" y2="185.7" stroke="#000" stroke-width="2.6"/>
<line x1="93.7" y1="141.8" x2="100.6" y2="141.8" stroke="#000" stroke-width="2.6"/>
<line x1="678.7" y1="141.9" x2="671.2" y2="141.9" stroke="#000" stroke-width="2.6"/>
<line x1="93.7" y1="98.0" x2="100.6" y2="98.0" stroke="#000" stroke-width="2.6"/>
<line x1="678.7" y1="98.1" x2="671.2" y2="98.1" stroke="#000" stroke-width="2.6"/>
<line x1="93.7" y1="54.2" x2="100.6" y2="54.2" stroke="#000" stroke-width="2.6"/>
<line x1="678.7" y1="54.3" x2="671.2" y2="54.3" stroke="#000" stroke-width="2.6"/>
<text transform="matrix(1,0,0,1.01,81.2,457.15)" font-size="26.5" text-anchor="end">0</text>
<text transform="matrix(1,0,0,1.01,81.2,413.36)" font-size="26.5" text-anchor="end">0.1</text>
<text transform="matrix(1,0,0,1.01,81.2,369.57)" font-size="26.5" text-anchor="end">0.2</text>
<text transform="matrix(1,0,0,1.01,81.2,325.78)" font-size="26.5" text-anchor="end">0.3</text>
<text transform="matrix(1,0,0,1.01,81.2,281.99)" font-size="26.5" text-anchor="end">0.4</text>
<text transform="matrix(1,0,0,1.01,81.2,238.20)" font-size="26.5" text-anchor="end">0.5</text>
<text transform="matrix(1,0,0,1.01,81.2,194.41)" font-size="26.5" text-anchor="end">0.6</text>
<text transform="matrix(1,0,0,1.01,81.2,150.62)" font-size="26.5" text-anchor="end">0.7</text>
<text transform="matrix(1,0,0,1.01,81.2,106.83)" font-size="26.5" text-anchor="end">0.8</text>
<text transform="matrix(1,0,0,1.01,81.2,63.04)" font-size="26.5" text-anchor="end">0.9</text>
<text transform="matrix(1,0,0,1.01,81.2,19.25)" font-size="26.5" text-anchor="end">1</text>
<text transform="matrix(1,0,0,1.025,93.40,480.8)" font-size="26.9" text-anchor="middle">0</text>
<text transform="matrix(1,0,0,1.025,166.52,480.8)" font-size="26.9" text-anchor="middle">0.5</text>
<text transform="matrix(1,0,0,1.025,239.65,480.8)" font-size="26.9" text-anchor="middle">1</text>
<text transform="matrix(1,0,0,1.025,312.77,480.8)" font-size="26.9" text-anchor="middle">1.5</text>
<text transform="matrix(1,0,0,1.025,385.90,480.8)" font-size="26.9" text-anchor="middle">2</text>
<text transform="matrix(1,0,0,1.025,459.02,480.8)" font-size="26.9" text-anchor="middle">2.5</text>
<text transform="matrix(1,0,0,1.025,532.15,480.8)" font-size="26.9" text-anchor="middle">3</text>
<text transform="matrix(1,0,0,1.025,605.28,480.8)" font-size="26.9" text-anchor="middle">3.5</text>
<text transform="matrix(1,0,0,1.025,678.40,480.8)" font-size="26.9" text-anchor="middle">4</text>
<text transform="translate(19.8,329.2) rotate(-90) scale(1,1.05)" font-size="26.5">Efficiency limit [-]</text>
<rect x="107.5" y="24.8" width="397.7" height="79.2" fill="#fff" stroke="#8a8a8a" stroke-width="1.3"/>
<line x1="113" y1="45.6" x2="167" y2="45.6" stroke="#000" stroke-width="3.6"/>
<line x1="113" y1="83.4" x2="167" y2="83.4" stroke="#000" stroke-width="3.6" stroke-dasharray="13 3 7 3"/>
<line x1="303.2" y1="45.6" x2="358.2" y2="45.6" stroke="#000" stroke-width="3.6" stroke-dasharray="13.8 12"/>
<line x1="303.4" y1="83.4" x2="358.2" y2="83.4" stroke="#000" stroke-width="3.6" stroke-dasharray="3.45 3.45"/>
<text transform="matrix(1.0000,0,0,1.0400,176.35,53.30)" font-size="22.5" font-style="italic" fill="#000">C</text>
<text transform="matrix(0.9921,0,0,1.0318,218.36,53.30)" font-size="22.5" fill="#000">100</text>
<text transform="matrix(1.0000,0,0,1.0400,176.45,90.50)" font-size="22.5" font-style="italic" fill="#000">C</text>
<text transform="matrix(0.9858,0,0,1.0252,218.47,90.50)" font-size="22.5" fill="#000">1000</text>
<text transform="matrix(1.0000,0,0,1.0400,367.75,53.30)" font-size="22.5" font-style="italic" fill="#000">C</text>
<text transform="matrix(1.0310,0,0,1.0722,408.04,53.30)" font-size="22.5" fill="#000">210</text>
<text transform="matrix(1.0000,0,0,1.0400,367.95,90.60)" font-size="22.5" font-style="italic" fill="#000">C</text>
<text transform="matrix(0.9985,0,0,1.0385,408.90,90.60)" font-size="22.5" fill="#000">45,000</text>
<text transform="matrix(0.9975,0,0,1.0374,106.08,169.60)" font-size="22.8" fill="#0c6f35">ST (1000 K)</text>
<text transform="matrix(0.9949,0,0,1.0347,105.88,231.70)" font-size="22.8" fill="#073b60">ST (673 K)</text>
<text transform="matrix(0.9949,0,0,1.0347,105.88,364.90)" font-size="22.8" fill="#dc2a17">ST (400 K)</text>
<text transform="matrix(1.0000,0,0,1.0400,544.00,116.00)" font-size="22.8" font-style="italic" fill="#0c6f35">T</text>
<text transform="matrix(1.0000,0,0,1.0400,555.90,123.90)" font-size="14.5" fill="#0c6f35">h</text>
<text transform="matrix(0.9765,0,0,1.0156,591.09,116.00)" font-size="22.8" fill="#0c6f35">1000 K</text>
<text transform="matrix(1.0000,0,0,1.0400,556.40,234.10)" font-size="22.8" font-style="italic" fill="#073b60">T</text>
<text transform="matrix(1.0000,0,0,1.0400,568.50,241.80)" font-size="14.5" fill="#073b60">h</text>
<text transform="matrix(0.9875,0,0,1.0270,602.99,234.10)" font-size="22.8" fill="#073b60">673 K</text>
<text transform="matrix(1.0000,0,0,1.0400,556.40,308.90)" font-size="22.8" font-style="italic" fill="#dc2a17">T</text>
<text transform="matrix(1.0000,0,0,1.0400,568.50,315.90)" font-size="14.5" fill="#dc2a17">h</text>
<text transform="matrix(0.9906,0,0,1.0303,603.40,308.90)" font-size="22.8" fill="#dc2a17">400 K</text>
<text transform="matrix(1.0045,0,0,1.0447,180.27,408.40)" font-size="22.5" fill="#000">Ge</text>
<text transform="matrix(1.0187,0,0,1.0595,234.85,408.40)" font-size="22.5" fill="#000">Si</text>
<text transform="matrix(0.9931,0,0,1.0328,284.88,383.00)" font-size="22.5" fill="#000">GaAs</text>
<text transform="matrix(1.0581,0,0,1.1004,285.21,408.50)" font-size="22.5" fill="#000">CdTe</text>
<text transform="matrix(1.0000,0,0,1.0400,331.88,362.10)" font-size="22.5" fill="#000">GaInP</text>
<text transform="matrix(0.9871,0,0,1.0266,407.09,408.20)" font-size="22.5" fill="#000">GaP</text>
<text transform="matrix(1.0149,0,0,1.0555,542.14,408.20)" font-size="22.5" fill="#000">ZnO</text>
<text transform="matrix(1.0000,0,0,1.0350,261.28,519.00)" font-size="26.5" fill="#000">Bandgap energy [eV]</text>
<rect x="199.50" y="44.00" width="11.00" height="1.44" fill="#000"/>
<rect x="199.50" y="48.52" width="11.00" height="1.44" fill="#000"/>
<rect x="199.50" y="81.67" width="11.00" height="1.44" fill="#000"/>
<rect x="199.50" y="85.94" width="11.00" height="1.44" fill="#000"/>
<rect x="390.20" y="44.00" width="11.50" height="1.44" fill="#000"/>
<rect x="390.20" y="48.52" width="11.50" height="1.44" fill="#000"/>
<rect x="389.90" y="81.67" width="11.60" height="1.44" fill="#000"/>
<rect x="389.90" y="85.94" width="11.60" height="1.44" fill="#000"/>
<rect x="571.60" y="107.33" width="11.30" height="1.44" fill="#0c6f35"/>
<rect x="571.60" y="112.02" width="11.30" height="1.44" fill="#0c6f35"/>
<rect x="584.50" y="225.48" width="11.10" height="1.44" fill="#073b60"/>
<rect x="584.50" y="230.23" width="11.10" height="1.44" fill="#073b60"/>
<rect x="584.50" y="300.23" width="11.10" height="1.44" fill="#dc2a17"/>
<rect x="584.50" y="304.98" width="11.10" height="1.44" fill="#dc2a17"/>
<rect x="67.30" y="410.35" width="5.81" height="4.32" fill="#fff"/>
<rect x="75.46" y="410.35" width="5.60" height="4.32" fill="#fff"/>
<rect x="67.30" y="16.24" width="5.81" height="4.32" fill="#fff"/>
<rect x="75.46" y="16.24" width="5.60" height="4.32" fill="#fff"/>
<rect x="233.03" y="477.72" width="5.90" height="4.42" fill="#fff"/>
<rect x="241.31" y="477.72" width="5.69" height="4.42" fill="#fff"/>
<rect x="294.94" y="477.72" width="5.90" height="4.42" fill="#fff"/>
<rect x="303.22" y="477.72" width="5.69" height="4.42" fill="#fff"/>
<rect x="219.08" y="50.53" width="4.89" height="4.11" fill="#fff"/>
<rect x="225.95" y="50.53" width="4.72" height="4.11" fill="#fff"/>
<rect x="219.18" y="87.75" width="4.86" height="4.08" fill="#fff"/>
<rect x="226.01" y="87.75" width="4.69" height="4.08" fill="#fff"/>
<rect x="421.68" y="50.43" width="5.09" height="4.27" fill="#fff"/>
<rect x="428.81" y="50.43" width="4.90" height="4.27" fill="#fff"/>
<rect x="149.35" y="166.80" width="4.99" height="4.15" fill="#fff"/>
<rect x="156.34" y="166.80" width="4.81" height="4.15" fill="#fff"/>
<rect x="591.81" y="113.25" width="4.88" height="4.07" fill="#fff"/>
<rect x="598.66" y="113.25" width="4.71" height="4.07" fill="#fff"/>
</svg>
</body></html>
